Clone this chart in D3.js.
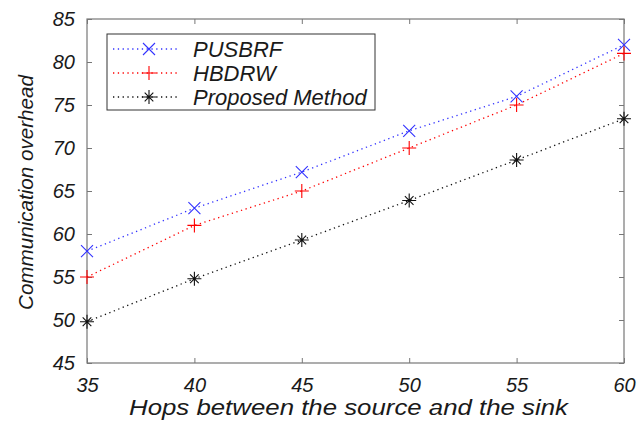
<!DOCTYPE html>
<html>
<head>
<meta charset="utf-8">
<script src="https://cdn.jsdelivr.net/npm/d3@7"></script>
<style>
  body { margin: 0; background: #fff; }
  text { font-family: "Liberation Sans", Arial, sans-serif; font-style: italic; fill: #1a1a1a; }
</style>
</head>
<body>
<div id="chart"></div>
<script>
var hops = [35, 40, 45, 50, 55, 60];
var pusbrf = [58, 63, 67.2, 72, 76, 82];
var hbdrw = [55, 61, 65, 70, 75, 81];
var proposed = [49.8, 54.8, 59.3, 63.9, 68.6, 73.4];
var yTicks = [45, 50, 55, 60, 65, 70, 75, 80, 85];
var seriesNames = ["PUSBRF", "HBDRW", "Proposed Method"];

function init(){
    var w = 640, h = 425;
    var left = 87, right = 624, top = 19, bottom = 363;

    var series = [
        {name: seriesNames[0], values: pusbrf, color: "#3333ff", marker: "x"},
        {name: seriesNames[1], values: hbdrw, color: "#ff0000", marker: "plus"},
        {name: seriesNames[2], values: proposed, color: "#111111", marker: "star"}
    ];

    var xScale = d3.scaleLinear().domain([35, 60]).range([left, right]);
    var yScale = d3.scaleLinear().domain([45, 85]).range([bottom, top]);

    var svg = d3.select("#chart").append("svg")
        .attr("width", w).attr("height", h);

    // box frame
    svg.append("rect")
        .attr("x", left).attr("y", top)
        .attr("width", right - left).attr("height", bottom - top)
        .attr("fill", "none").attr("stroke", "#777").attr("stroke-width", 1.2);

    var xAxis = d3.axisBottom(xScale).tickValues(hops).tickSize(-5).tickPadding(12)
        .tickFormat(d3.format("d"));
    var yAxis = d3.axisLeft(yScale).tickValues(yTicks).tickSize(-5).tickPadding(12)
        .tickFormat(d3.format("d"));

    var gx = svg.append("g").attr("transform", `translate(0,${bottom})`).call(xAxis);
    var gy = svg.append("g").attr("transform", `translate(${left},0)`).call(yAxis);
    // mirrored ticks on top and right
    var gxt = svg.append("g").attr("transform", `translate(0,${top})`)
        .call(d3.axisTop(xScale).tickValues(hops).tickSize(-5).tickFormat(""));
    var gyr = svg.append("g").attr("transform", `translate(${right},0)`)
        .call(d3.axisRight(yScale).tickValues(yTicks).tickSize(-5).tickFormat(""));

    [gx, gy, gxt, gyr].forEach(function(g){
        g.select(".domain").remove();
        g.selectAll(".tick line").attr("stroke", "#777");
        g.selectAll(".tick text")
            .attr("font-size", 20)
            .attr("font-family", "Liberation Sans, Arial, sans-serif")
            .attr("font-style", "italic")
            .attr("fill", "#1a1a1a");
    });
    gx.selectAll(".tick text").attr("dy", "0.85em");

    var line = d3.line()
        .x(function(d, i){ return xScale(hops[i]); })
        .y(function(d){ return yScale(d); });

    function drawMarker(g, type, color, size){
        var s = size / 2;
        if (type === "x") {
            g.append("path").attr("d", `M${-s},${-s}L${s},${s}M${-s},${s}L${s},${-s}`);
        } else if (type === "plus") {
            g.append("path").attr("d", `M${-s-1},0L${s+1},0M0,${-s-1}L0,${s+1}`);
        } else {
            var d = s * 0.72;
            g.append("path").attr("d",
                `M${-s-1},0L${s+1},0M0,${-s-1}L0,${s+1}M${-d},${-d}L${d},${d}M${-d},${d}L${d},${-d}`);
        }
        g.selectAll("path").attr("stroke", color).attr("stroke-width", 1.1).attr("fill", "none");
    }

    series.forEach(function(s){
        svg.append("path")
            .datum(s.values)
            .attr("d", line)
            .attr("fill", "none")
            .attr("stroke", s.color)
            .attr("stroke-width", 1.3)
            .attr("stroke-dasharray", "1.3,3.5");
        s.values.forEach(function(v, i){
            var g = svg.append("g")
                .attr("transform", `translate(${xScale(hops[i])},${yScale(v)})`);
            drawMarker(g, s.marker, s.color, 12);
        });
    });

    // legend
    var lg = svg.append("g").attr("transform", "translate(107,34)");
    lg.append("rect").attr("width", 268).attr("height", 76)
        .attr("fill", "#fff").attr("stroke", "#333").attr("stroke-width", 1);
    series.forEach(function(s, i){
        var y = 15 + i * 24;
        lg.append("line").attr("x1", 6).attr("x2", 73).attr("y1", y).attr("y2", y)
            .attr("stroke", s.color).attr("stroke-width", 1.3)
            .attr("stroke-dasharray", "1.3,3.5");
        var g = lg.append("g").attr("transform", `translate(42,${y})`);
        drawMarker(g, s.marker, s.color, 12);
        lg.append("text").attr("x", 86).attr("y", y + 8)
            .attr("font-size", 22).text(s.name);
    });

    // axis titles
    svg.append("text")
        .attr("x", 129).attr("y", 414.5)
        .attr("font-size", 22)
        .attr("textLength", 439).attr("lengthAdjust", "spacingAndGlyphs")
        .text("Hops between the source and the sink");
    svg.append("text")
        .attr("transform", `translate(33,310) rotate(-90)`)
        .attr("font-size", 21)
        .attr("textLength", 235).attr("lengthAdjust", "spacingAndGlyphs")
        .text("Communication overhead");
}
window.onload = init;
</script>
</body>
</html>
